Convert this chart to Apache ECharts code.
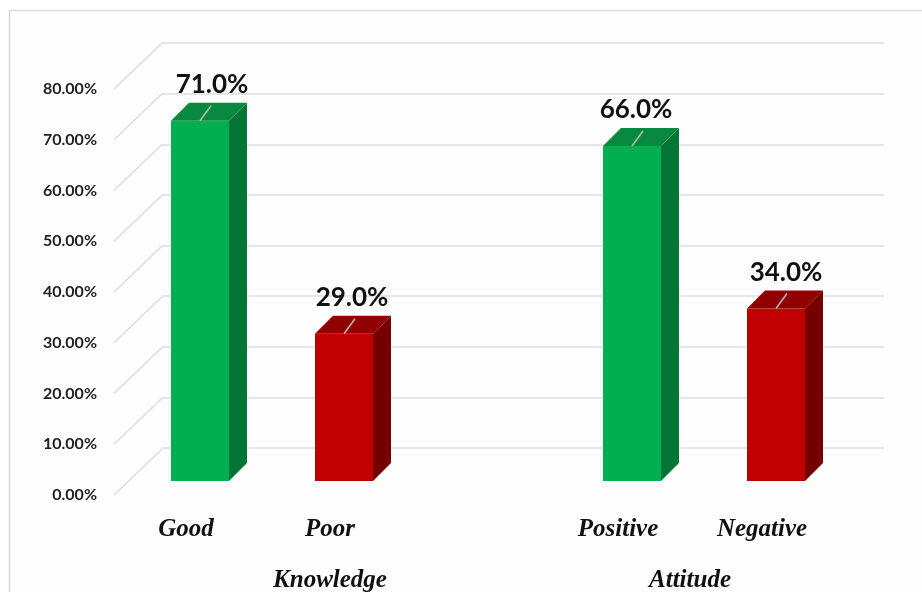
<!DOCTYPE html>
<html><head><meta charset="utf-8">
<style>html,body{margin:0;padding:0;background:#fff}#c{width:922px;height:592px}</style>
<script src="https://cdn.jsdelivr.net/npm/echarts@6/dist/echarts.min.js"></script>
</head><body><div id="c"></div>
<script>
const categories = ['Good', 'Poor', '', 'Positive', 'Negative'];
const values = [71, 29, null, 66, 34];
const groups = ['Knowledge', 'Attitude'];
const yTicks = [0, 10, 20, 30, 40, 50, 60, 70, 80];
const kinds = ['good', 'bad', null, 'good', 'bad'];
const labelShiftX = [12, 8, 0, 4, 10];
const palette = {
  good: { front: '#00B050', side: '#047535', top: '#078A3F' },
  bad: { front: '#C00000', side: '#760000', top: '#900000' }
};
const GRID_COLOR = '#dedede';
const DEPTH_X = 18, DEPTH_Y = 18, BAR_W = 58;

const chart = echarts.init(document.getElementById('c'), null, { renderer: 'canvas' });

function renderBar(params, api) {
  const idx = api.value(0);
  const v = api.value(1);
  const kind = kinds[idx];
  if (!kind) return null;
  const c = palette[kind];
  const top = api.coord([idx, v]);
  const base = api.coord([idx, 0]);
  const l = top[0] - BAR_W / 2, r = top[0] + BAR_W / 2;
  const t = top[1], b = base[1];
  const poly = (points, fill) => ({ type: 'polygon', shape: { points }, style: { fill } });
  return {
    type: 'group',
    children: [
      poly([[r, t], [r + DEPTH_X, t - DEPTH_Y], [r + DEPTH_X, b - DEPTH_Y], [r, b]], c.side),
      poly([[l, t], [l + DEPTH_X, t - DEPTH_Y], [r + DEPTH_X, t - DEPTH_Y], [r, t]], c.top),
      { type: 'rect', shape: { x: l, y: t, width: BAR_W, height: b - t }, style: { fill: c.front } },
      { type: 'line', shape: { x1: top[0], y1: t, x2: top[0] + 11, y2: t - 15 }, style: { stroke: '#b5b5b5', lineWidth: 1.6 } },
      { type: 'text', x: top[0] + labelShiftX[idx], y: t - 36, style: {
          text: v.toFixed(1) + '%', fill: '#111', align: 'center', verticalAlign: 'middle',
          font: 'bold 26px Lato, "Noto Sans", sans-serif' } }
    ]
  };
}

function renderDiagonal(params, api) {
  const y = api.coord([0, api.value(0)])[1];
  const x = params.coordSys.x;
  return { type: 'line', shape: { x1: x, y1: y, x2: x + 48, y2: y - 46 },
    style: { stroke: GRID_COLOR, lineWidth: 1.6 }, silent: true };
}

const hiddenX = { type: 'category', data: categories, axisLine: { show: false }, axisTick: { show: false }, axisLabel: { show: false } };
const catFont = { fontFamily: '"Liberation Serif", serif', fontStyle: 'italic', fontWeight: 'bold', fontSize: 25, color: '#111' };

chart.setOption({
  animation: false,
  backgroundColor: '#fff',
  graphic: [{ type: 'rect', z: -10, shape: { x: 9.5, y: 10.5, width: 930, height: 600 },
    style: { fill: '#fefefe', stroke: '#d9d9d9', lineWidth: 1.5 } }],
  grid: [
    { left: 162, top: 43, width: 722, height: 405, outerBoundsMode: 'none' },
    { left: 128, top: 75, width: 720, height: 406, outerBoundsMode: 'none' },
    { left: 114, top: 89, width: 720, height: 406, outerBoundsMode: 'none' },
    { left: 150, top: 89, width: 720, height: 406, outerBoundsMode: 'none' }
  ],
  xAxis: [
    Object.assign({ gridIndex: 0 }, hiddenX),
    Object.assign({ gridIndex: 1 }, hiddenX),
    { gridIndex: 2, type: 'category', data: categories, axisLine: { show: false }, axisTick: { show: false },
      axisLabel: Object.assign({ margin: 22, interval: 0 }, catFont) },
    { gridIndex: 3, type: 'category', data: groups, axisLine: { show: false }, axisTick: { show: false },
      axisLabel: Object.assign({ margin: 73, interval: 0 }, catFont) }
  ],
  yAxis: [
    { gridIndex: 0, type: 'value', min: 0, max: 80, interval: 10, axisLabel: { show: false },
      axisLine: { show: false }, axisTick: { show: false },
      splitLine: { show: true, lineStyle: { color: GRID_COLOR, width: 1.6 } } },
    { gridIndex: 1, type: 'value', min: 0, max: 80, interval: 10, axisLabel: { show: false },
      axisLine: { show: false }, axisTick: { show: false }, splitLine: { show: false } },
    { gridIndex: 2, type: 'value', min: 0, max: 80, interval: 10, axisLine: { show: false }, axisTick: { show: false },
      splitLine: { show: false },
      axisLabel: { margin: 17, formatter: v => v.toFixed(2) + '%', color: '#222',
        fontFamily: 'Lato, "Noto Sans", sans-serif', fontWeight: 'bold', fontSize: 16 } },
    { gridIndex: 3, type: 'value', min: 0, max: 80, show: false }
  ],
  series: [
    { type: 'custom', xAxisIndex: 2, yAxisIndex: 2, z: 1, silent: true, renderItem: renderDiagonal,
      encode: { y: 0 }, data: yTicks.map(v => [v]) },
    { type: 'custom', xAxisIndex: 1, yAxisIndex: 1, z: 5, silent: true, renderItem: renderBar,
      encode: { x: 0, y: 1 }, data: values.map((v, i) => [i, v === null ? 0 : v]) }
  ]
});
</script></body></html>
